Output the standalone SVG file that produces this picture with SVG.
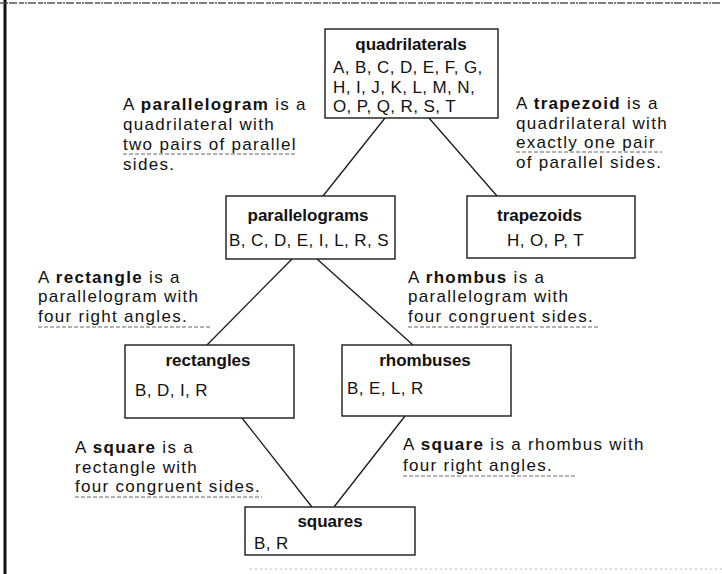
<svg xmlns="http://www.w3.org/2000/svg" width="722" height="574" viewBox="0 0 722 574">
<style>
.box{fill:#fff;stroke:#1a1a1a;stroke-width:1.4}
.t{font-family:"Liberation Sans","Open Sans",sans-serif;font-size:17px;fill:#111;letter-spacing:1.3px}
.r{font-family:"Liberation Sans","Open Sans",sans-serif;font-size:17px;fill:#111;letter-spacing:0.4px}
.h{font-family:"Liberation Sans","Open Sans",sans-serif;font-size:17px;font-weight:bold;fill:#111}
.b{font-weight:bold}
.ul{stroke:#666;stroke-width:1;stroke-dasharray:4 2;fill:none}
.conn line{stroke:#1a1a1a;stroke-width:1.3}
</style>
<rect width="722" height="574" fill="#fff"/>
<line x1="5" y1="0" x2="5" y2="574" stroke="#111" stroke-width="3"/>
<line x1="0" y1="3" x2="722" y2="3" stroke="#555" stroke-width="1.6" stroke-dasharray="5 1 2 1 8 2"/>
<line x1="250" y1="569" x2="722" y2="569" stroke="#bbb" stroke-width="1" stroke-dasharray="2 3"/>

<g class="conn" id="connectors">
<line x1="385" y1="118" x2="323" y2="196"/>
<line x1="429" y1="118" x2="497" y2="196"/>
<line x1="292" y1="259" x2="207" y2="345"/>
<line x1="317" y1="259" x2="413" y2="345"/>
<line x1="242" y1="418" x2="312" y2="507"/>
<line x1="405" y1="416" x2="334" y2="507"/>
</g>

<g id="quadrilaterals">
<rect class="box" x="325" y="29" width="173" height="89"/>
<text class="h" x="411" y="50" text-anchor="middle">quadrilaterals</text>
<text class="r" x="333" y="73">A, B, C, D, E, F, G,</text>
<text class="r" x="333" y="93">H, I, J, K, L, M, N,</text>
<text class="r" x="333" y="112">O, P, Q, R, S, T</text>
</g>

<g id="note-parallelogram">
<text class="t" x="123" y="110">A <tspan class="b">parallelogram</tspan> is a</text>
<text class="t" x="123" y="130">quadrilateral with</text>
<text class="t" x="123" y="150">two pairs of parallel</text>
<text class="t" x="123" y="170">sides.</text>
<line class="ul" x1="123" y1="154" x2="296" y2="154"/>
</g>

<g id="note-trapezoid">
<text class="t" x="516" y="109">A <tspan class="b">trapezoid</tspan> is a</text>
<text class="t" x="516" y="129">quadrilateral with</text>
<text class="t" x="516" y="148">exactly one pair</text>
<text class="t" x="516" y="168">of parallel sides.</text>
<line class="ul" x1="516" y1="152" x2="662" y2="152"/>
</g>

<g id="parallelograms">
<rect class="box" x="226" y="196" width="169" height="63"/>
<text class="h" x="308" y="221" text-anchor="middle">parallelograms</text>
<text class="r" x="229" y="246">B, C, D, E, I, L, R, S</text>
</g>

<g id="trapezoids">
<rect class="box" x="467" y="196" width="168" height="62"/>
<text class="h" x="497" y="221">trapezoids</text>
<text class="r" x="507" y="246">H, O, P, T</text>
</g>

<g id="note-rectangle">
<text class="t" x="38" y="283">A <tspan class="b">rectangle</tspan> is a</text>
<text class="t" x="38" y="302">parallelogram with</text>
<text class="t" x="38" y="322">four right angles.</text>
<line class="ul" x1="38" y1="327" x2="210" y2="327"/>
</g>

<g id="note-rhombus">
<text class="t" x="408" y="283">A <tspan class="b">rhombus</tspan> is a</text>
<text class="t" x="408" y="302">parallelogram with</text>
<text class="t" x="408" y="322">four congruent sides.</text>
<line class="ul" x1="408" y1="327" x2="598" y2="327"/>
</g>

<g id="rectangles">
<rect class="box" x="125" y="345" width="169" height="73"/>
<text class="h" x="208" y="366" text-anchor="middle">rectangles</text>
<text class="r" x="135" y="396">B, D, I, R</text>
</g>

<g id="rhombuses">
<rect class="box" x="342" y="345" width="169" height="71"/>
<text class="h" x="425" y="366" text-anchor="middle">rhombuses</text>
<text class="r" x="347" y="394">B, E, L, R</text>
</g>

<g id="note-square-rectangle">
<text class="t" x="75" y="453">A <tspan class="b">square</tspan> is a</text>
<text class="t" x="75" y="473">rectangle with</text>
<text class="t" x="75" y="492">four congruent sides.</text>
<line class="ul" x1="75" y1="497" x2="262" y2="497"/>
</g>

<g id="note-square-rhombus">
<text class="t" x="403" y="450">A <tspan class="b">square</tspan> is a rhombus with</text>
<text class="t" x="403" y="471">four right angles.</text>
<line class="ul" x1="403" y1="476" x2="575" y2="476"/>
</g>

<g id="squares">
<rect class="box" x="245" y="507" width="170" height="48"/>
<text class="h" x="330" y="527" text-anchor="middle">squares</text>
<text class="r" x="254" y="549">B, R</text>
</g>
</svg>
